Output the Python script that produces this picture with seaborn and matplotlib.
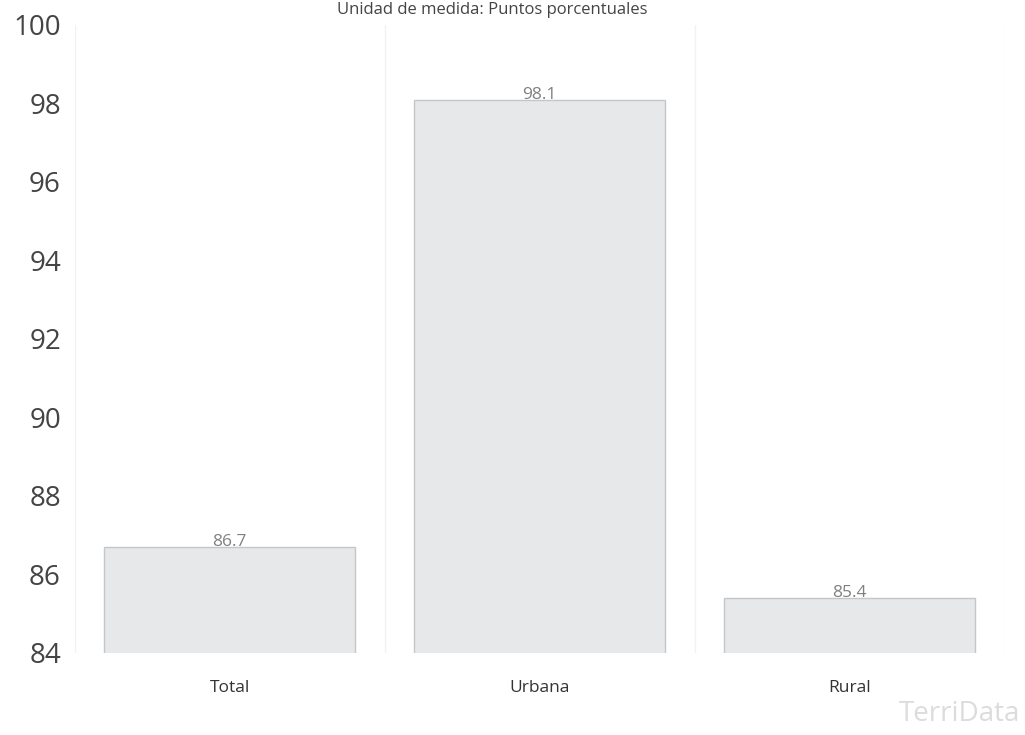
import matplotlib
matplotlib.use("Agg")
import matplotlib.pyplot as plt
import seaborn as sns
import pandas as pd

# Data
categories = ["Total", "Urbana", "Rural"]
values = [86.7, 98.1, 85.4]
y_ticks = [84, 86, 88, 90, 92, 94, 96, 98, 100]

df = pd.DataFrame({"categoria": categories, "valor": values})

sns.set_theme(style="white")
plt.rcParams["font.family"] = ["Open Sans", "DejaVu Sans"]

fig = plt.figure(figsize=(10.25, 7.35), dpi=100)
ax = fig.add_axes([0.073, 0.112, 0.907, 0.854])

sns.barplot(data=df, x="categoria", y="valor", ax=ax, color="#e6e8ea",
            edgecolor="#c4c6c8", linewidth=1.0, width=0.81, saturation=1)

ax.set_ylim(84, 100)
ax.set_xlim(-0.5, 2.5)
ax.set_yticks(y_ticks)
ax.set_yticklabels([str(t) for t in y_ticks], fontsize=20, color="#444444")
ax.tick_params(axis="x", labelsize=12.5, colors="#333333", pad=20, length=0)
ax.tick_params(axis="y", pad=10, length=0)
ax.set_xlabel("")
ax.set_ylabel("")
for s in ax.spines.values():
    s.set_visible(False)

# faint separators between categories
for xb in [-0.5, 0.5, 1.5, 2.5]:
    ax.axvline(xb, color="#f2f2f2", linewidth=1, zorder=0)

# value labels
for bar, v in zip(ax.patches, values):
    ax.text(bar.get_x() + bar.get_width() / 2, v + 0.02, f"{v:.1f}",
            ha="center", va="baseline", fontsize=12.5, color="#808080")

fig.text(0.48, 1 - 14 / 735, "Unidad de medida: Puntos porcentuales",
         ha="center", va="baseline", fontsize=12, color="#444444")

fig.text(0.995, 0.01, "TerriData", ha="right", va="bottom",
         fontsize=20, color="#dcdcdc")

plt.savefig("out.png", dpi=100)
plt.close()
